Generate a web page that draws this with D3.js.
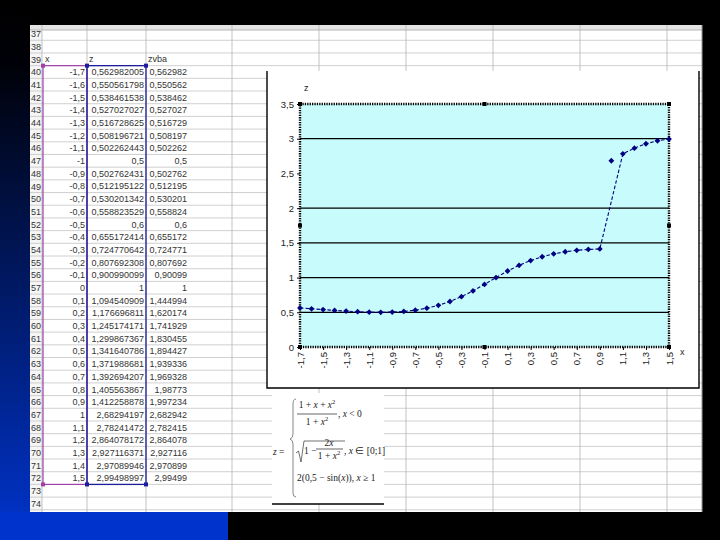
<!DOCTYPE html>
<html><head><meta charset="utf-8">
<script src="https://cdn.jsdelivr.net/npm/d3@7"></script>
<style>html,body{margin:0;padding:0;background:#000;}svg{display:block;}</style>
</head><body>
<svg id="c" width="720" height="540"></svg>
<script>
// ---------- data ----------
const xValues = [-1.7,-1.6,-1.5,-1.4,-1.3,-1.2,-1.1,-1,-0.9,-0.8,-0.7,-0.6,-0.5,-0.4,-0.3,-0.2,-0.1,0,
  0.1,0.2,0.3,0.4,0.5,0.6,0.7,0.8,0.9,1,1.1,1.2,1.3,1.4,1.5];
const zValues = [0.562982005,0.550561798,0.538461538,0.527027027,0.516728625,0.508196721,0.502262443,0.5,
  0.502762431,0.512195122,0.530201342,0.558823529,0.6,0.655172414,0.724770642,0.807692308,0.900990099,1,
  1.094540909,1.176696811,1.245174171,1.299867367,1.341640786,1.371988681,1.392694207,1.405563867,1.412258878,
  2.68294197,2.78241472,2.864078172,2.927116371,2.97089946,2.99498997];
const zvbaValues = [0.562982,0.550562,0.538462,0.527027,0.516729,0.508197,0.502262,0.5,
  0.502762,0.512195,0.530201,0.558824,0.6,0.655172,0.724771,0.807692,0.90099,1,
  1.444994,1.620174,1.741929,1.830455,1.894427,1.939336,1.969328,1.98773,1.997234,
  2.682942,2.782415,2.864078,2.927116,2.970899,2.99499];
const yTickValues = [0,0.5,1,1.5,2,2.5,3,3.5];
const yGridValues = [0.5,1,1.5,2,3];
const xTickLabels = ["-1,7","-1,5","-1,3","-1,1","-0,9","-0,7","-0,5","-0,3","-0,1",
  "0,1","0,3","0,5","0,7","0,9","1,1","1,3","1,5"];
const headerTexts = ["x","z","zvba"];
const rowNumbers = d3.range(37,75);
const lineSkipX = [1]; // the drawn line passes from 0.9 straight to 1.1

const fmt = (v, d) => { let s = v.toFixed(d); if (s.indexOf('.')>=0) s = s.replace(/0+$/,'').replace(/\.$/,''); return s.replace('.',','); };
const data = xValues.map((x,i)=>({x, z:zValues[i], zvba:zvbaValues[i]}));

const svg = d3.select("#c");
const defs = svg.append("defs");
const lg = defs.append("linearGradient").attr("id","lg").attr("x1",0).attr("y1",0).attr("x2",0).attr("y2",1);
lg.append("stop").attr("offset","0%").attr("stop-color","#000");
lg.append("stop").attr("offset","12%").attr("stop-color","#000108");
lg.append("stop").attr("offset","100%").attr("stop-color","#0034cc");

svg.append("rect").attr("width",720).attr("height",540).attr("fill","#000");
svg.append("rect").attr("x",0).attr("y",0).attr("width",30).attr("height",540).attr("fill","url(#lg)");
svg.append("rect").attr("x",0).attr("y",512).attr("width",228).attr("height",28).attr("fill","#0033cc");

// ---------- spreadsheet ----------
const sheetL=30, sheetR=702, sheetT=25, sheetB=512;
const rowTop = r => 65.65 + (r-40)*12.69;
const colLines = [42,87,146,232,319,406,493,580,667];
const sh = svg.append("g");
sh.append("rect").attr("x",sheetL).attr("y",sheetT).attr("width",sheetR-sheetL).attr("height",sheetB-sheetT).attr("fill","#fff");
sh.append("rect").attr("x",sheetL).attr("y",sheetT).attr("width",sheetR-sheetL).attr("height",5).attr("fill","#e4e4e4");
sh.append("rect").attr("x",sheetL).attr("y",30).attr("width",12).attr("height",sheetB-30).attr("fill","#f6f6f6");
sh.append("line").attr("x1",sheetL).attr("x2",sheetR).attr("y1",30).attr("y2",30).attr("stroke","#a8a8a8").attr("stroke-width",0.8);
d3.range(38,76).forEach(r=>{
  const y=rowTop(r); if(y>sheetB) return;
  sh.append("line").attr("x1",sheetL).attr("x2",sheetR).attr("y1",y).attr("y2",y).attr("stroke","#c4c4c4").attr("stroke-width",0.8);
});
colLines.forEach(x=>sh.append("line").attr("x1",x).attr("x2",x).attr("y1",sheetT).attr("y2",sheetB).attr("stroke","#b4b4b4").attr("stroke-width",0.8));
sh.append("line").attr("x1",sheetR).attr("x2",sheetR).attr("y1",sheetT).attr("y2",sheetB).attr("stroke","#999").attr("stroke-width",1);

const cellFont = {"font-family":"'Liberation Sans', Arial, sans-serif","font-size":"9px","fill":"#333"};
function txt(x,y,s,anchor){ const t=sh.append("text").attr("x",x).attr("y",y).attr("text-anchor",anchor||"start").text(s); Object.entries(cellFont).forEach(([k,v])=>t.attr(k,v)); return t; }
rowNumbers.forEach(r=>{ const cy=rowTop(r)+6.35; if(cy<32) {txt(31,37,r);} else txt(31,cy+3.3,r); });
txt(45,rowTop(39)+9.5,headerTexts[0]);
txt(89,rowTop(39)+9.5,headerTexts[1]);
txt(148,rowTop(39)+9.5,headerTexts[2]);
data.forEach((d,i)=>{
  const by=rowTop(40+i)+9.6;
  txt(85,by,fmt(d.x,1),"end");
  txt(144,by,fmt(d.z,9),"end");
  txt(187,by,fmt(d.zvba,6),"end");
});
// chart source range highlight
const selT=rowTop(40), selB=rowTop(73);
sh.append("rect").attr("x",43).attr("y",selT).attr("width",44).attr("height",selB-selT).attr("fill","none").attr("stroke","#a040a8").attr("stroke-width",1.2);
sh.append("rect").attr("x",87).attr("y",selT).attr("width",59).attr("height",selB-selT).attr("fill","none").attr("stroke","#1c1c9c").attr("stroke-width",1.3);
[[43,selT,"#a040a8"],[43,selB,"#a040a8"],[87,selT,"#1c1c9c"],[146,selT,"#1c1c9c"],[87,selB,"#1c1c9c"],[146,selB,"#1c1c9c"]].forEach(([x,y,c])=>
  sh.append("rect").attr("x",x-2).attr("y",y-2).attr("width",4).attr("height",4).attr("fill",c));

// ---------- chart object ----------
const ch = svg.append("g");
ch.append("rect").attr("x",267).attr("y",71).attr("width",432).attr("height",317).attr("fill","#fff");
ch.append("path").attr("d","M267,71 L267,388 L699,388 L699,71").attr("fill","none").attr("stroke","#000").attr("stroke-width",1.4);

const plotL=300, plotR=669, plotT=104, plotB=347;
const x = d3.scalePoint().domain(xValues).range([plotL,plotR]);
const y = d3.scaleLinear().domain([0,3.5]).range([plotB,plotT]);

ch.append("rect").attr("x",plotL).attr("y",plotT).attr("width",plotR-plotL).attr("height",plotB-plotT).attr("fill","#c8fcfc");
ch.selectAll(".grid").data(yGridValues).join("line").attr("class","grid")
  .attr("x1",plotL).attr("x2",plotR).attr("y1",d=>y(d)).attr("y2",d=>y(d)).attr("stroke","#000").attr("stroke-width",1.2);

const axFont = "'Liberation Sans', Arial, sans-serif";
const yAxis = ch.append("g").attr("transform",`translate(${plotL},0)`)
  .call(d3.axisLeft(y).tickValues(yTickValues).tickSize(3).tickPadding(3).tickFormat(d=>String(d).replace('.',',')));
yAxis.select(".domain").remove();
yAxis.selectAll("text").attr("font-family",axFont).attr("font-size","9.5px").attr("fill","#222");
yAxis.selectAll("line").attr("stroke","#000");

const xTickValues = xTickLabels.map(l=>xValues.find(v=>fmt(v,1)===l));
const xAxis = ch.append("g").attr("transform",`translate(0,${plotB})`)
  .call(d3.axisBottom(x).tickValues(xTickValues).tickSize(3).tickFormat((d,i)=>xTickLabels[i]));
xAxis.select(".domain").remove();
xAxis.selectAll("line").attr("stroke","#000");
xAxis.selectAll("text").attr("font-family",axFont).attr("font-size","9.5px").attr("fill","#222")
  .attr("transform","rotate(-90)").attr("x",-5).attr("y",0).attr("dy","0.32em").style("text-anchor","end");

// dotted plot border (selected plot area) + handles
ch.append("rect").attr("x",plotL).attr("y",plotT).attr("width",plotR-plotL).attr("height",plotB-plotT)
  .attr("fill","none").attr("stroke","#000").attr("stroke-width",2.4).attr("stroke-dasharray","1.3,1.1");
const midX=(plotL+plotR)/2, midY=(plotT+plotB)/2;
[[plotL,plotT],[midX,plotT],[plotR,plotT],[plotR,midY],[plotR,plotB],[midX,plotB],[plotL,plotB],[plotL,midY]].forEach(([hx,hy])=>
  ch.append("rect").attr("x",hx-2).attr("y",hy-2).attr("width",4).attr("height",4).attr("fill","#000"));

// series
const lineData = data.filter(d=>!lineSkipX.includes(d.x));
ch.append("path").datum(lineData)
  .attr("d",d3.line().x(d=>x(d.x)).y(d=>y(d.z)))
  .attr("fill","none").attr("stroke","#000080").attr("stroke-width",1.1).attr("stroke-dasharray","3.5,2");
ch.selectAll(".mk").data(data).join("path").attr("class","mk")
  .attr("transform",d=>`translate(${x(d.x)},${y(d.z)})`)
  .attr("d","M0,-2.9L2.9,0L0,2.9L-2.9,0Z").attr("fill","#000080");

ch.append("text").attr("x",304).attr("y",91).attr("font-family",axFont).attr("font-size","9px").attr("fill","#222").text("z");
ch.append("text").attr("x",680).attr("y",355).attr("font-family",axFont).attr("font-size","9px").attr("fill","#222").text("x");

// ---------- formula picture ----------
const fm = svg.append("g");
fm.append("rect").attr("x",272).attr("y",393).attr("width",112).attr("height",111).attr("fill","#fff");
fm.append("line").attr("x1",272).attr("x2",384).attr("y1",504).attr("y2",504).attr("stroke","#000").attr("stroke-width",1.3);
const ff = {"font-family":"'Liberation Serif','Times New Roman',serif","font-size":"9.5px","fill":"#1a1a1a"};
function ftxt(xx,yy,anchor){ const t=fm.append("text").attr("x",xx).attr("y",yy).attr("text-anchor",anchor||"start"); Object.entries(ff).forEach(([k,v])=>t.attr(k,v)); return t; }
function seg(t,s,it,sup){ const ts=t.append("tspan").text(s); if(it) ts.attr("font-style","italic"); if(sup) ts.attr("dy",sup).attr("font-size","6.5px"); return ts; }
fm.append("path").attr("d","M296,399 Q293,399 293,404 L293,434 Q293,438 290,439 Q293,440 293,444 L293,493 Q293,497 296,497")
  .attr("fill","none").attr("stroke","#555").attr("stroke-width",0.7);
let t = ftxt(317,408,"middle"); seg(t,"1 + "); seg(t,"x",true); seg(t," + "); seg(t,"x",true); seg(t,"2",false,"-4");
fm.append("line").attr("x1",297).attr("x2",337).attr("y1",414).attr("y2",414).attr("stroke","#222").attr("stroke-width",0.7);
t = ftxt(317,425,"middle"); seg(t,"1 + "); seg(t,"x",true); seg(t,"2",false,"-4");
t = ftxt(338,417); seg(t,", "); seg(t,"x",true); seg(t," < 0");
t = ftxt(273,455); seg(t,"z",true); seg(t," = ");
fm.append("path").attr("d","M296,453 L298.5,451 L301,462 L304,441 L345,441").attr("fill","none").attr("stroke","#333").attr("stroke-width",0.7);
t = ftxt(304,454); seg(t,"1 − ");
t = ftxt(329,446,"middle"); seg(t,"2"); seg(t,"x",true);
fm.append("line").attr("x1",316).attr("x2",343).attr("y1",449).attr("y2",449).attr("stroke","#222").attr("stroke-width",0.7);
t = ftxt(329,459,"middle"); seg(t,"1 + "); seg(t,"x",true); seg(t,"2",false,"-4");
t = ftxt(344,454); seg(t,", "); seg(t,"x",true); seg(t," ∈ [0;1]");
t = ftxt(297,481); seg(t,"2(0,5 − sin("); seg(t,"x",true); seg(t,")), "); seg(t,"x",true); seg(t," ≥ 1");
</script>
</body></html>
